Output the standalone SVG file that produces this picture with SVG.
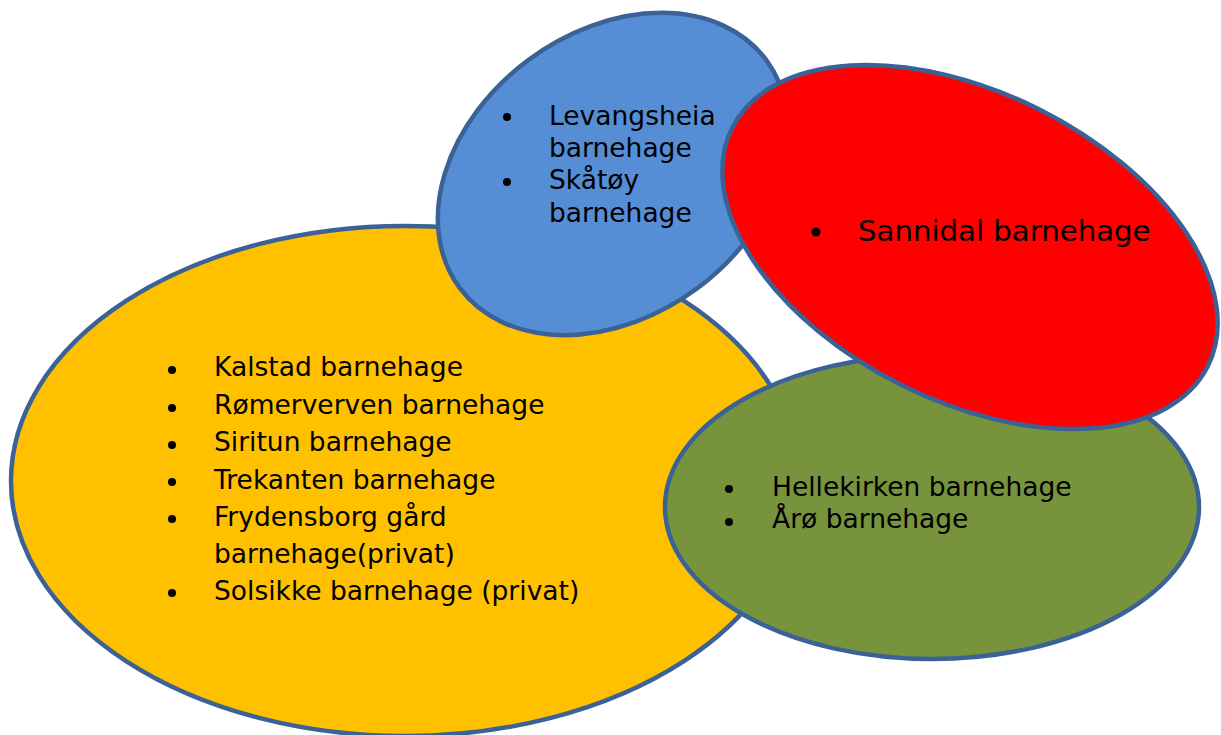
<svg xmlns="http://www.w3.org/2000/svg" width="1221" height="735" viewBox="0 0 1221 735">
<style>
.shape{stroke:#3B6296;stroke-width:4.5}
.t{font-family:"DejaVu Sans","Verdana",sans-serif;font-size:26.5px;fill:#000}
.big{font-size:29.2px}
.dot{fill:#000}
</style>
<rect width="1221" height="735" fill="#fff"/>
<g id="node-yellow">
<ellipse class="shape" cx="405" cy="481" rx="394" ry="255" fill="#FFC000"/>
<circle class="dot" cx="172" cy="370" r="4"/>
<circle class="dot" cx="172" cy="408" r="4"/>
<circle class="dot" cx="172" cy="445" r="4"/>
<circle class="dot" cx="172" cy="482" r="4"/>
<circle class="dot" cx="172" cy="519" r="4"/>
<circle class="dot" cx="172" cy="593" r="4"/>
<text class="t" x="214" y="376">Kalstad barnehage</text>
<text class="t" x="214" y="414">Rømerverven barnehage</text>
<text class="t" x="214" y="451">Siritun barnehage</text>
<text class="t" x="214" y="489">Trekanten barnehage</text>
<text class="t" x="214" y="526">Frydensborg gård</text>
<text class="t" x="214" y="563">barnehage(privat)</text>
<text class="t" x="214" y="600">Solsikke barnehage (privat)</text>
</g>
<g id="node-blue">
<ellipse class="shape" cx="613" cy="174" rx="191" ry="142" transform="rotate(-36.6 613 174)" fill="#558ED5"/>
<circle class="dot" cx="507" cy="117" r="4"/>
<circle class="dot" cx="507" cy="182" r="4"/>
<text class="t" x="549" y="125">Levangsheia</text>
<text class="t" x="549" y="157">barnehage</text>
<text class="t" x="549" y="189">Skåtøy</text>
<text class="t" x="549" y="222">barnehage</text>
</g>
<g id="node-green">
<ellipse class="shape" cx="932" cy="507" rx="267" ry="152" fill="#77933C"/>
<circle class="dot" cx="729" cy="489" r="4"/>
<circle class="dot" cx="729" cy="522" r="4"/>
<text class="t" x="772" y="496">Hellekirken barnehage</text>
<text class="t" x="772" y="528">Årø barnehage</text>
</g>
<g id="node-red">
<ellipse class="shape" cx="970" cy="247" rx="266" ry="154" transform="rotate(26.6 970 247)" fill="#FF0000"/>
<circle class="dot" cx="816" cy="232" r="4.5"/>
<text class="t big" x="858" y="241">Sannidal barnehage</text>
</g>
<g id="connectors"></g>
</svg>
